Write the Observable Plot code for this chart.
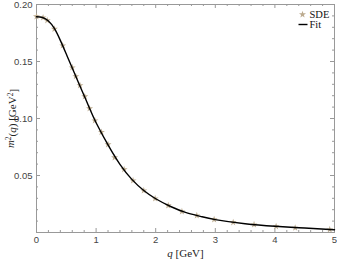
<!DOCTYPE html>
<html><head><meta charset="utf-8">
<script src="https://cdn.jsdelivr.net/npm/d3@7"></script>
<script src="https://cdn.jsdelivr.net/npm/@observablehq/plot@0.6"></script>
<style>body{margin:0;background:#fff}</style>
</head><body><div id="chart"></div>
<script>
// SDE data points
const sdeQ = [0, 0.11, 0.18, 0.30, 0.44, 0.60, 0.66, 0.73, 0.81, 0.89, 0.98, 1.09, 1.20, 1.31, 1.47, 1.62, 1.80, 1.99, 2.21, 2.44, 2.69, 2.98, 3.30, 3.65, 4.02, 4.34, 4.92];
const sdeM = [0.1895, 0.1885, 0.1860, 0.1785, 0.1640, 0.1447, 0.1370, 0.1290, 0.1193, 0.1088, 0.0982, 0.0880, 0.0772, 0.0658, 0.0553, 0.0456, 0.0368, 0.0298, 0.0237, 0.0184, 0.0149, 0.0114, 0.0088, 0.0070, 0.0053, 0.0041, 0.0026];
// Fit curve samples
const fitQ = [0, 0.1, 0.2, 0.3, 0.4, 0.5, 0.6, 0.7, 0.8, 0.9, 1.0, 1.2, 1.4, 1.6, 1.8, 2.0, 2.25, 2.5, 2.75, 3.0, 3.5, 4.0, 4.5, 5.0];
const fitM = [0.1893, 0.1886, 0.1856, 0.1790, 0.1685, 0.1565, 0.1443, 0.1320, 0.1200, 0.1077, 0.0963, 0.0768, 0.0598, 0.0466, 0.0368, 0.0296, 0.0228, 0.0177, 0.0142, 0.0113, 0.0077, 0.0055, 0.0039, 0.0024];
// Tick labels
const xTicks = [0, 1, 2, 3, 4, 5];
const yTicks = [0.05, 0.10, 0.15, 0.20];
const xMinor = [0.2,0.4,0.6,0.8,1.2,1.4,1.6,1.8,2.2,2.4,2.6,2.8,3.2,3.4,3.6,3.8,4.2,4.4,4.6,4.8];
const yMinor = [0.01,0.02,0.03,0.04,0.06,0.07,0.08,0.09,0.11,0.12,0.13,0.14,0.16,0.17,0.18,0.19];
const seriesNames = ["SDE", "Fit"];

const sde = sdeQ.map((q, i) => ({q, m: sdeM[i]}));
const fit = fitQ.map((q, i) => ({q, m: fitM[i]}));

const FH = 228, FW = 298; // frame size
const tickC = "#999";
const starC = "#bcab8f";
const lineSym = {draw(ctx) { ctx.moveTo(-4.5, 0); ctx.lineTo(4.5, 0); }};
const legendFont = {fontFamily: "Liberation Serif", fontSize: 10.5, fill: "#111", textAnchor: "start", lineAnchor: "middle", frameAnchor: "top-right"};

const chart = Plot.plot({
  width: 337, height: 259,
  marginLeft: 36, marginRight: 3, marginTop: 4, marginBottom: 27,
  style: {fontFamily: "Liberation Sans", fontSize: "9.5px", color: "#444", background: "white"},
  x: {domain: [0, 5]},
  y: {domain: [0, 0.2]},
  marks: [
    // minor/major ticks, inward, on all four sides
    Plot.ruleX(xMinor, {x: d => d, insetTop: FH - 2, stroke: tickC}),
    Plot.ruleX(xMinor, {x: d => d, insetBottom: FH - 2, stroke: tickC}),
    Plot.ruleX(xTicks, {x: d => d, insetTop: FH - 4, stroke: tickC}),
    Plot.ruleX(xTicks, {x: d => d, insetBottom: FH - 4, stroke: tickC}),
    Plot.ruleY(yMinor, {y: d => d, insetRight: FW - 2, stroke: tickC}),
    Plot.ruleY(yMinor, {y: d => d, insetLeft: FW - 2, stroke: tickC}),
    Plot.ruleY(yTicks, {y: d => d, insetRight: FW - 4, stroke: tickC}),
    Plot.ruleY(yTicks, {y: d => d, insetLeft: FW - 4, stroke: tickC}),
    Plot.frame({stroke: tickC}),
    Plot.axisX({ticks: xTicks, tickSize: 0, tickPadding: 4, tickFormat: d3.format("d"),
      label: "q [GeV]", labelAnchor: "center", labelOffset: 24, labelArrow: "none"}),
    Plot.axisY({ticks: yTicks, tickSize: 0, tickPadding: 4, tickFormat: d3.format(".2f"),
      label: "m2(q) [GeV2]", labelAnchor: "center", labelOffset: 30, labelArrow: "none"}),
    Plot.dot(sde, {x: "q", y: "m", symbol: "star", r: 2.2, fill: starC, stroke: "none"}),
    Plot.line(fit, {x: "q", y: "m", curve: "natural", stroke: "black", strokeWidth: 1.4}),
    // legend
    Plot.dot([seriesNames[0]], {frameAnchor: "top-right", dx: -32, dy: 10, symbol: "star", r: 2.2, fill: starC, stroke: "none"}),
    Plot.dot([seriesNames[1]], {frameAnchor: "top-right", dx: -31.5, dy: 20, symbol: lineSym, r: 3, stroke: "black", strokeWidth: 1.4, fill: "none"}),
    Plot.text([seriesNames[0]], {...legendFont, text: d => d, dx: -25, dy: 10}),
    Plot.text([seriesNames[1]], {...legendFont, text: d => d, dx: -25, dy: 20})
  ]
});

document.getElementById("chart").appendChild(chart);

// Rich text axis labels
const xl = chart.querySelector('g[aria-label="x-axis label"] text');
if (xl) {
  xl.innerHTML = '<tspan font-style="italic">q</tspan> [GeV]';
  xl.setAttribute("font-family", "Liberation Serif");
  xl.setAttribute("font-size", "11");
  xl.setAttribute("fill", "#222");
}
const yl = chart.querySelector('g[aria-label="y-axis label"] text');
if (yl) {
  yl.innerHTML = '<tspan font-style="italic">m</tspan><tspan dy="-0.45em" font-size="7.5">2</tspan><tspan dy="0.45em">(</tspan><tspan font-style="italic">q</tspan>) [GeV<tspan dy="-0.45em" font-size="7.5">2</tspan><tspan dy="0.45em">]</tspan>';
  yl.setAttribute("font-family", "Liberation Serif");
  yl.setAttribute("font-size", "11");
  yl.setAttribute("fill", "#222");
}
</script>
</body></html>
